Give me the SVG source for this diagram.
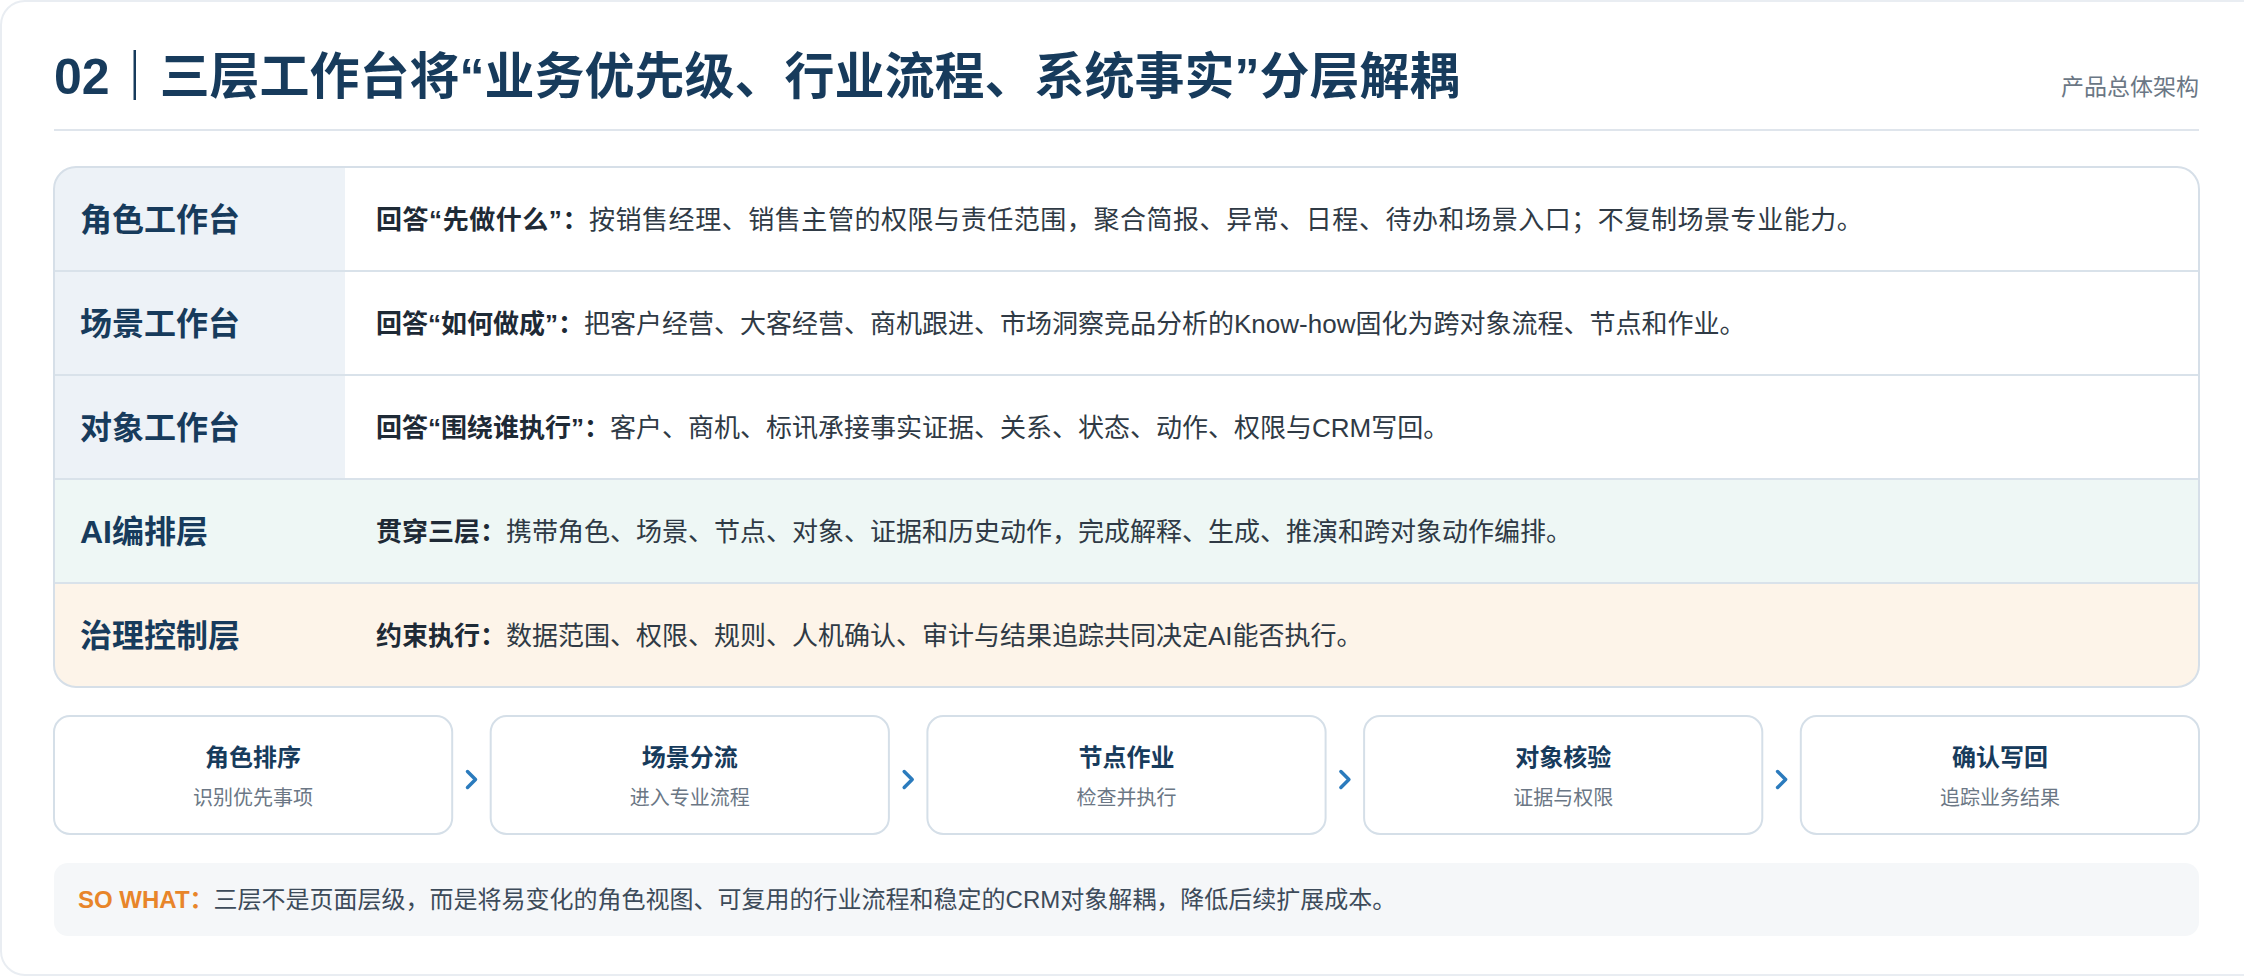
<svg xmlns="http://www.w3.org/2000/svg" width="2244" height="976" viewBox="0 0 2244 976">
<style>
text{font-family:"Liberation Sans","Noto Sans CJK SC",sans-serif;}
.title{font-size:50px;font-weight:700;fill:#173b5c;}
.tag{font-size:23px;fill:#6b7785;}
.lbl{font-size:32px;font-weight:700;fill:#173b5c;}
.body{font-size:26px;fill:#2f3a45;}
.b{font-weight:700;fill:#1e2a36;}
.card{fill:#ffffff;stroke:#d5dfe8;stroke-width:2;}
.st{font-size:24px;font-weight:700;fill:#173b5c;text-anchor:middle;}
.ss{font-size:20px;fill:#6b7785;text-anchor:middle;}
.div{stroke:#d9e2ea;stroke-width:2;}
.chev{fill:none;stroke:#2b7bbd;stroke-width:3.5;stroke-linecap:round;stroke-linejoin:round;}
</style>
<defs>
<clipPath id="tbl"><rect x="54" y="167" width="2145" height="520" rx="22"/></clipPath>
</defs>
<rect x="1" y="1" width="2270" height="974" rx="24" fill="#ffffff" stroke="#e9edf2" stroke-width="2"/>
<g id="header">
<text class="title" x="54" y="94">02<tspan font-weight="900">｜</tspan>三层工作台将“业务优先级、行业流程、系统事实”分层解耦</text>
<text class="tag" x="2199" y="95" text-anchor="end">产品总体架构</text>
<line x1="54" y1="130" x2="2199" y2="130" stroke="#dfe5ec" stroke-width="2"/>
</g>
<g id="table">
<g clip-path="url(#tbl)">
<rect x="54" y="167" width="2145" height="520" fill="#ffffff"/>
<rect x="54" y="167" width="291" height="312" fill="#edf2f7"/>
<rect x="54" y="479" width="2145" height="104" fill="#eef7f5"/>
<rect x="54" y="583" width="2145" height="104" fill="#fdf4e9"/>
<line class="div" x1="54" y1="271" x2="2199" y2="271"/>
<line class="div" x1="54" y1="375" x2="2199" y2="375"/>
<line class="div" x1="54" y1="479" x2="2199" y2="479"/>
<line class="div" x1="54" y1="583" x2="2199" y2="583"/>
</g>
<rect x="54" y="167" width="2145" height="520" rx="22" fill="none" stroke="#d6dfe8" stroke-width="2"/>
</g>
<g id="row-role">
<text class="lbl" x="80" y="231">角色工作台</text>
<text class="body" x="376" y="229" letter-spacing="0.55"><tspan class="b">回答“先做什么”：</tspan>按销售经理、销售主管的权限与责任范围，聚合简报、异常、日程、待办和场景入口；不复制场景专业能力。</text>
</g>
<g id="row-scene">
<text class="lbl" x="80" y="335">场景工作台</text>
<text class="body" x="376" y="333"><tspan class="b">回答“如何做成”：</tspan>把客户经营、大客经营、商机跟进、市场洞察竞品分析的Know-how固化为跨对象流程、节点和作业。</text>
</g>
<g id="row-object">
<text class="lbl" x="80" y="439">对象工作台</text>
<text class="body" x="376" y="437"><tspan class="b">回答“围绕谁执行”：</tspan>客户、商机、标讯承接事实证据、关系、状态、动作、权限与CRM写回。</text>
</g>
<g id="row-ai">
<text class="lbl" x="80" y="543">AI编排层</text>
<text class="body" x="376" y="541"><tspan class="b">贯穿三层：</tspan>携带角色、场景、节点、对象、证据和历史动作，完成解释、生成、推演和跨对象动作编排。</text>
</g>
<g id="row-gov">
<text class="lbl" x="80" y="647">治理控制层</text>
<text class="body" x="376" y="645"><tspan class="b">约束执行：</tspan>数据范围、权限、规则、人机确认、审计与结果追踪共同决定AI能否执行。</text>
</g>
<g id="step-1">
<rect class="card" x="54" y="716" width="398.2" height="118" rx="16"/>
<text class="st" x="253.1" y="766">角色排序</text>
<text class="ss" x="253.1" y="805">识别优先事项</text>
</g>
<g id="step-2">
<rect class="card" x="490.7" y="716" width="398.2" height="118" rx="16"/>
<text class="st" x="689.8" y="766">场景分流</text>
<text class="ss" x="689.8" y="805">进入专业流程</text>
</g>
<g id="step-3">
<rect class="card" x="927.4" y="716" width="398.2" height="118" rx="16"/>
<text class="st" x="1126.5" y="766">节点作业</text>
<text class="ss" x="1126.5" y="805">检查并执行</text>
</g>
<g id="step-4">
<rect class="card" x="1364.1" y="716" width="398.2" height="118" rx="16"/>
<text class="st" x="1563.2" y="766">对象核验</text>
<text class="ss" x="1563.2" y="805">证据与权限</text>
</g>
<g id="step-5">
<rect class="card" x="1800.8" y="716" width="398.2" height="118" rx="16"/>
<text class="st" x="1999.9" y="766">确认写回</text>
<text class="ss" x="1999.9" y="805">追踪业务结果</text>
</g>
<g id="connectors">
<path class="chev" d="M467.5,771.5 L475.5,779.5 L467.5,787.5"/>
<path class="chev" d="M904.2,771.5 L912.2,779.5 L904.2,787.5"/>
<path class="chev" d="M1340.9,771.5 L1348.9,779.5 L1340.9,787.5"/>
<path class="chev" d="M1777.6,771.5 L1785.6,779.5 L1777.6,787.5"/>
</g>
<g id="sowhat">
<rect x="54" y="863" width="2145" height="73" rx="14" fill="#f5f7f9"/>
<text x="78" y="908" font-size="24"><tspan font-weight="700" fill="#e8852a">SO WHAT：</tspan><tspan fill="#3d4b5a">三层不是页面层级，而是将易变化的角色视图、可复用的行业流程和稳定的CRM对象解耦，降低后续扩展成本。</tspan></text>
</g>
</svg>
